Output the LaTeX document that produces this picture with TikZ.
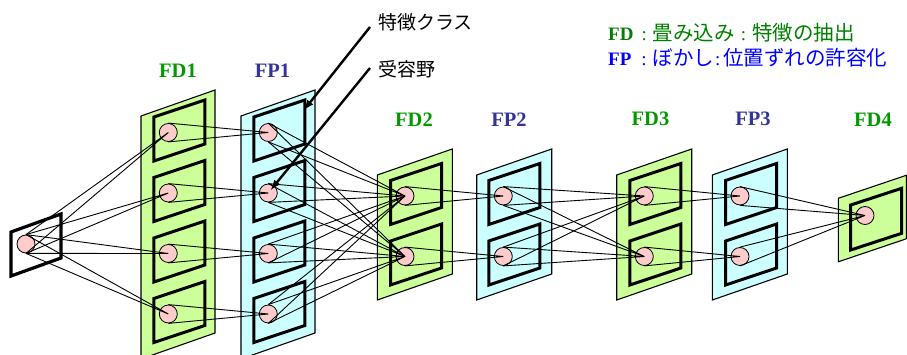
\documentclass[tikz,border=0pt]{standalone}
\usepackage{fontspec}
\setmainfont{Liberation Serif}
\newfontfamily\jp{Noto Sans CJK JP}
\definecolor{fdfill}{RGB}{204,255,153}
\definecolor{fpfill}{RGB}{204,255,255}
\definecolor{unitpink}{RGB}{255,204,204}
\definecolor{fdtext}{RGB}{0,153,0}
\definecolor{fptext}{RGB}{51,51,153}
\definecolor{legendgreen}{RGB}{0,128,0}
\definecolor{legendblue}{RGB}{0,0,255}
\begin{document}
\begin{tikzpicture}[x=1pt,y=-1pt]
  \tikzset{
    fdplane/.style={fill=fdfill,draw,line width=1.1pt,line join=miter},
    fpplane/.style={fill=fpfill,draw,line width=1.1pt,line join=miter},
    unit/.style={circle,draw,fill=unitpink,minimum size=18pt,inner sep=0pt,line width=0.8pt},
    link/.style={line width=0.9pt},
    cellbox/.pic={\draw[line width=3pt,line join=miter] (-14.5,-15.5) -- ++(51,-17) -- ++(0,44) -- ++(-51,17) -- cycle;},
    layerlabel/.style={font={\fontsize{20.5pt}{24pt}\selectfont\bfseries},inner sep=0pt},
    note/.style={font={\fontsize{19pt}{22pt}\selectfont\jp},inner sep=0pt,anchor=west},
    legend/.style={font={\fontsize{19pt}{24pt}\selectfont},inner sep=0pt,anchor=west},
    callout/.style={-latex,line width=2.4pt}
  }
  \useasboundingbox (0,0) rectangle (907,355);
  % planes
  \draw[fdplane] (141,116) -- ++(74,-26) -- ++(0,243) -- ++(-74,26) -- cycle;
  \draw[fpplane] (241,116) -- ++(74,-26) -- ++(0,243) -- ++(-74,26) -- cycle;
  \draw[fdplane] (377.3,175) -- ++(75,-26) -- ++(0,125) -- ++(-75,26) -- cycle;
  \draw[fpplane] (476.7,175) -- ++(75,-26) -- ++(0,125) -- ++(-75,26) -- cycle;
  \draw[fdplane] (616.7,175) -- ++(75,-26) -- ++(0,125) -- ++(-75,26) -- cycle;
  \draw[fpplane] (712.3,175) -- ++(75,-26) -- ++(0,125) -- ++(-75,26) -- cycle;
  \draw[fdplane] (838.3,198.3) -- ++(68,-23) -- ++(0,63.5) -- ++(-68,23) -- cycle;
  % input frame and last cell
  \draw[line width=3.2pt,line join=miter] (11,232) -- ++(50,-18) -- ++(0,44) -- ++(-50,18) -- cycle;
  \draw[line width=3pt,line join=miter] (850.7,205) -- ++(51,-16.7) -- ++(0,45) -- ++(-51,16.7) -- cycle;
  \node[unit] (in) at (26,244) {};
  \node[unit] (d4) at (865,215.5) {};
  % cells with their units
  \foreach \n/\x/\y in {d1a/168.3/132.5, d1b/168.3/193, d1c/168.3/253.5, d1d/168.3/314,
                        p1a/268.3/132.5, p1b/268.3/193, p1c/268.3/253.5, p1d/268.3/314,
                        d2a/405/196, d2b/405/256.5, p2a/503.3/196, p2b/503.3/256.5,
                        d3a/644.3/196, d3b/644.3/256.5, p3a/740/196, p3b/740/256.5}
  {
    \pic at (\x,\y) {cellbox};
    \node[unit] (\n) at (\x,\y) {};
  }
  % connections
  \foreach \s/\t in {in/d1a, in/d1b, in/d1c, in/d1d,
                     d1a/p1a, d1b/p1b, d1c/p1c, d1d/p1d,
                     p1a/d2a, p1b/d2a, p1c/d2a, p1d/d2a,
                     p1a/d2b, p1b/d2b, p1c/d2b, p1d/d2b,
                     d2a/p2a, d2b/p2b,
                     p2a/d3a, p2b/d3a, p2a/d3b, p2b/d3b,
                     d3a/p3a, d3b/p3b,
                     p3a/d4, p3b/d4}
    \draw[link] (\s.north) -- (\t.center) (\s.south) -- (\t.center);
  % layer names
  \node[layerlabel,text=fdtext] (lfd1) at (178,71) {FD1};
  \node[layerlabel,text=fptext] (lfp1) at (272.5,71) {FP1};
  \node[layerlabel,text=fdtext] (lfd2) at (414,119.3) {FD2};
  \node[layerlabel,text=fptext] (lfp2) at (509,119.3) {FP2};
  \node[layerlabel,text=fdtext] (lfd3) at (650.5,119.3) {FD3};
  \node[layerlabel,text=fptext] (lfp3) at (753,119.3) {FP3};
  \node[layerlabel,text=fdtext] (lfd4) at (873,119.3) {FD4};
  % notes
  \node[note] (cls) at (378,22) {特徴クラス};
  \node[note] (rfield) at (378,69) {受容野};
  \coordinate (clsfoot) at (370,27);
  \coordinate (rfieldfoot) at (370,68);
  \coordinate (cellcorner) at (304,110);
  \draw[callout] (clsfoot) -- (cellcorner);
  \draw[callout,shorten >=4pt] (rfieldfoot) -- (p1b.center);
  % legend
  \node[legend,text=legendgreen] (lgfd) at (608,32.5)
    {\textbf{FD}\hspace{8pt}:\hspace{6pt}{\jp\fontsize{20.5pt}{24pt}\selectfont 畳み込み}\hspace{6pt}:\hspace{6pt}{\jp\fontsize{20.5pt}{24pt}\selectfont 特徴の抽出}};
  \node[legend,text=legendblue] (lgfp) at (608,57.5)
    {\textbf{FP}\hspace{10pt}:\hspace{6pt}{\jp\fontsize{20.5pt}{24pt}\selectfont ぼかし}\hspace{1pt}:\hspace{3pt}{\jp\fontsize{20.5pt}{24pt}\selectfont 位置ずれの許容化}};
\end{tikzpicture}
\end{document}
